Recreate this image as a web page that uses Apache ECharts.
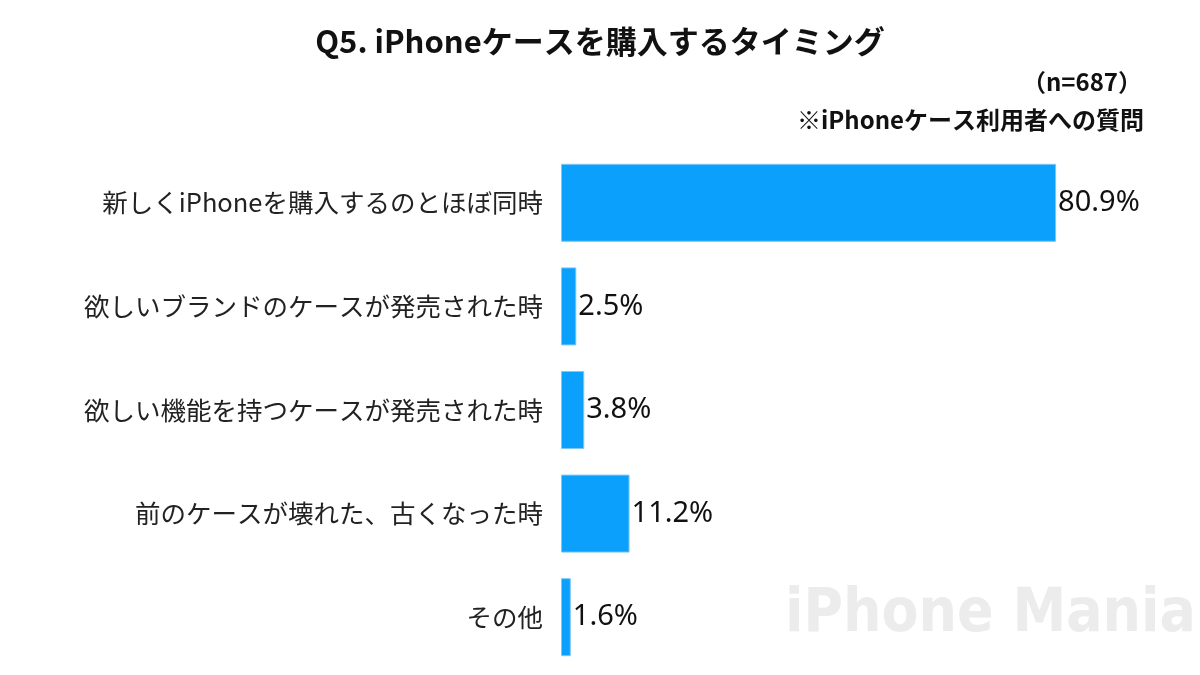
<!DOCTYPE html><html><head><meta charset="utf-8">
<script src="https://cdn.jsdelivr.net/npm/echarts@6/dist/echarts.min.js"></script>
<style>html,body{margin:0;background:#fff}#c{width:1200px;height:675px}</style></head><body><div id="c"></div>
<script>
const categories=['新しくiPhoneを購入するのとほぼ同時','欲しいブランドのケースが発売された時','欲しい機能を持つケースが発売された時','前のケースが壊れた、古くなった時','その他'];
const values=[80.9,2.5,3.8,11.2,1.6];
const F='"Noto Sans CJK JP", sans-serif';
const ch=echarts.init(document.getElementById('c'));
ch.setOption({
 graphic:[
  {type:'text',left:'center',top:26,style:{text:'Q5. iPhoneケースを購入するタイミング',font:'bold 31px '+F,fill:'#111'}},
  {type:'text',right:58,top:70,style:{text:'（n=687）',font:'bold 24px '+F,fill:'#111'}},
  {type:'text',right:56,top:108,style:{text:'※iPhoneケース利用者への質問',font:'bold 24px '+F,fill:'#111'}},
  {type:'text',left:785,top:585,z:-1,style:{text:'iPhone Mania',font:'bold 60px "DejaVu Sans Condensed", sans-serif',fill:'#ececec'}}
 ],
 grid:{left:561,right:27,top:151,bottom:6},
 xAxis:{type:'value',min:0,max:100,show:false},
 yAxis:{type:'category',inverse:true,data:categories,axisTick:{show:false},
  axisLine:{show:false},
  axisLabel:{fontSize:25.5,color:'#222',fontFamily:F,margin:18}},
 series:[{type:'bar',data:values,barWidth:78,
  itemStyle:{color:'#0aa0fb',borderColor:'#7cc8f7',borderWidth:1},
  label:{show:true,position:'right',distance:2,formatter:p=>p.value.toFixed(1)+'%',fontSize:29,color:'#111',fontFamily:'"Noto Sans", sans-serif'}}]
});
</script></body></html>
